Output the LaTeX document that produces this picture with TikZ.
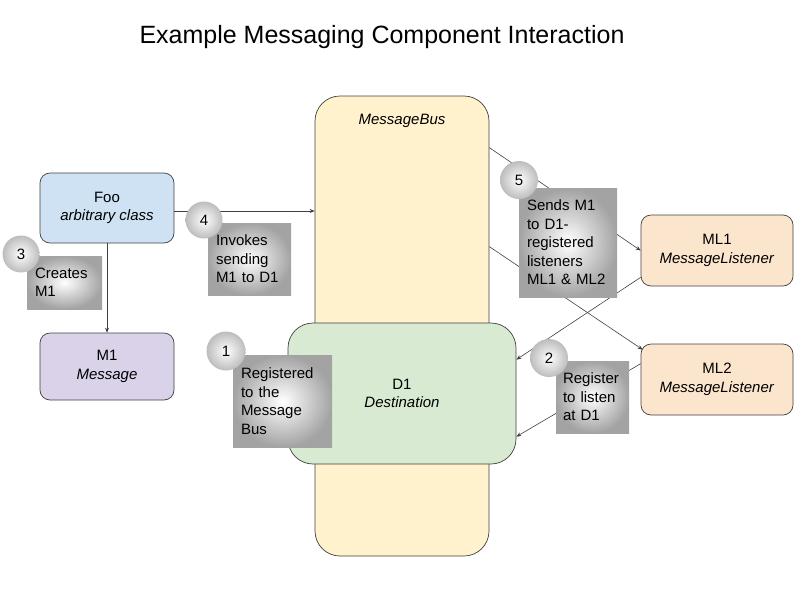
\documentclass[tikz,border=0pt]{standalone}
\usepackage{fontspec}
\setmainfont{Liberation Sans}
\usetikzlibrary{arrows.meta,calc}
\definecolor{fooC}{HTML}{CFE2F3}
\definecolor{msgC}{HTML}{D9D2E9}
\definecolor{busC}{HTML}{FFF2CC}
\definecolor{dstC}{HTML}{D9EAD3}
\definecolor{lsnC}{HTML}{FCE5CD}
\definecolor{edgeC}{HTML}{404040}
\newcommand\fsz{\fontsize{15}{18.5}\selectfont}
\begin{document}
\begin{tikzpicture}[x=1pt,y=-1pt,
  box/.style={draw=edgeC, line width=0.7pt, rounded corners=10pt, align=center, font=\fsz, inner sep=0pt},
  bigbox/.style={box, rounded corners=25pt},
  arr/.style={draw=edgeC, line width=0.6pt, -{Stealth[length=5pt,width=4pt]}},
  note/.style={shading=radial, inner color=white, outer color=black!36, align=left, font=\fsz, inner sep=0pt},
  num/.style={circle, shading=radial, inner color=white, outer color=black!26, inner sep=0pt, font=\fsz},
]
\useasboundingbox (0,0) rectangle (800,600);
\node[font=\fontsize{25}{28}\selectfont] (title) at (382,37.5) {Example Messaging Component Interaction};

% main components
\node[bigbox, fill=busC, minimum width=174pt, minimum height=460pt] (bus) at (402,326) {};
\node[font=\fsz\itshape] (buslbl) at (402,121) {MessageBus};
\node[bigbox, fill=dstC, minimum width=228pt, minimum height=141pt] (d1) at (402,393.5) {D1\\\textit{Destination}};
\node[box, fill=fooC, minimum width=134pt, minimum height=70pt] (foo) at (107,208) {Foo\\\textit{arbitrary class}};
\node[box, fill=msgC, minimum width=134pt, minimum height=67pt] (m1) at (107,366.5) {M1\\\textit{Message}};
\node[box, fill=lsnC, minimum width=152pt, minimum height=71pt] (ml1) at (717,250.5) {ML1\\\textit{MessageListener}};
\node[box, fill=lsnC, minimum width=152pt, minimum height=71pt] (ml2) at (717,379.5) {ML2\\\textit{MessageListener}};

% connectors
\coordinate (fooR) at ($(foo.east)+(0,3)$);
\coordinate (busA) at ($(bus.north east)+(0,52)$);
\coordinate (busB) at ($(bus.north east)+(0,151)$);
\coordinate (ml2in) at ($(ml2.north west)+(2,6)$);
\coordinate (ml1out) at ($(ml1.south west)+(0,-9)$);
\coordinate (ml2out) at ($(ml2.north west)+(0,20)$);
\coordinate (d1a) at ($(d1.north east)+(0,37)$);
\coordinate (d1b) at ($(d1.north east)+(0,114)$);
\draw[arr] (foo.south) -- (m1.north);
\draw[arr] (fooR) -- (fooR -| bus.west);
\draw[arr] (busA) -- (ml1.west);
\draw[arr] (busB) -- (ml2in);
\draw[arr] (ml1out) -- (d1a);
\draw[arr] (ml2out) -- (d1b);

% callouts
\node[note, minimum width=75pt, minimum height=53pt, text width=59pt] (c3) at (64.5,282.5) {Creates\\M1};
\node[note, minimum width=83pt, minimum height=72pt, text width=67pt] (c4) at (249.5,259) {Invokes\\sending\\M1 to D1};
\node[note, minimum width=99pt, minimum height=92pt, text width=83pt] (c1) at (282.5,401) {Registered\\to the\\Message\\Bus};
\node[note, minimum width=98pt, minimum height=109pt, text width=82pt] (c5) at (568,242.5) {Sends M1\\to D1-\\registered\\listeners\\ML1 \& ML2};
\node[note, minimum width=73pt, minimum height=72pt, text width=59pt] (c2) at (592.5,397) {Register\\to listen\\at D1};

\node[num, minimum size=37pt] (n3) at (21,254) {3};
\node[num, minimum size=37pt] (n4) at (204,220) {4};
\node[num, minimum size=39pt] (n1) at (226,351) {1};
\node[num, minimum size=38pt] (n5) at (519,180) {5};
\node[num, minimum size=38pt] (n2) at (549,358) {2};
\end{tikzpicture}
\end{document}
